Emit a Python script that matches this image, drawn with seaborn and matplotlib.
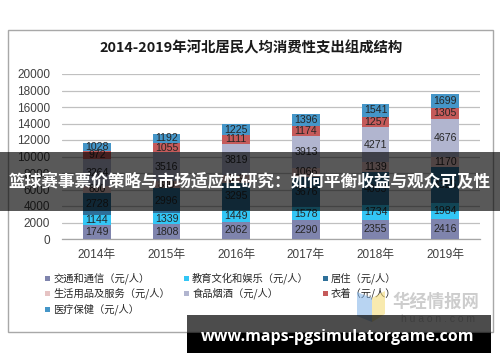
import matplotlib
matplotlib.use("Agg")
import matplotlib.pyplot as plt
from matplotlib.patches import Rectangle, Polygon
from matplotlib.lines import Line2D
import seaborn as sns
import numpy as np
import pandas as pd

years = ["2014年", "2015年", "2016年", "2017年", "2018年", "2019年"]
series_names = ["交通和通信（元/人）", "教育文化和娱乐（元/人）", "居住（元/人）",
                "生活用品及服务（元/人）", "食品烟酒（元/人）", "衣着（元/人）", "医疗保健（元/人）"]
transport = [1749, 1808, 2062, 2290, 2355, 2416]
education = [1144, 1339, 1449, 1578, 1734, 1984]
housing = [2728, 2996, 3295, 3676, 4063, 4325]
household = [800, 880, 919, 1066, 1139, 1170]
food = [3264, 3516, 3819, 3913, 4271, 4676]
clothing = [972, 1055, 1111, 1174, 1257, 1305]
medical = [1028, 1192, 1225, 1396, 1541, 1699]
yticks = list(range(0, 20001, 2000))

colors = ["#7f84ad", "#33c6f5", "#2e7099", "#e6c3c3", "#b1b5cf", "#c55a5a", "#4596c8"]
series = [transport, education, housing, household, food, clothing, medical]

sns.set_style("white")
plt.rcParams['font.family'] = ['Liberation Sans', 'Noto Sans CJK SC', 'DejaVu Sans']

fig = plt.figure(figsize=(5, 3.62), dpi=100)
ax = fig.add_axes([0.124, 1 - 239 / 362, 0.836, 165 / 362])

vals = np.array(series, dtype=float)
cum = np.cumsum(vals, axis=0)

# draw cumulative totals from top to bottom (stacked look)
for i in range(len(series) - 1, -1, -1):
    df = pd.DataFrame({"year": years, "v": cum[i]})
    sns.barplot(data=df, x="year", y="v", color=colors[i], saturation=1,
                width=0.4, errorbar=None, linewidth=0, ax=ax, zorder=3)

# labels
for i in range(len(series)):
    for j in range(len(years)):
        c = cum[i, j] - vals[i, j] / 2
        ax.text(j, c, f"{int(vals[i, j])}", ha="center", va="center",
                fontsize=7.6, color="#262626", zorder=5)

ax.set_ylim(0, 20000)
ax.set_xlim(-0.5, 5.5)
ax.set_yticks(yticks)
ax.set_yticklabels([str(t) for t in yticks], fontsize=8.5, color="#404040")
ax.yaxis.grid(True, color="#c0c0c0", linewidth=0.9, zorder=0)
ax.set_axisbelow(True)
ax.set_xlabel("")
ax.set_ylabel("")
for s in ["left", "right", "top"]:
    ax.spines[s].set_visible(False)
ax.spines["bottom"].set_color("#a6a6a6")
ax.spines["bottom"].set_linewidth(0.9)
ax.tick_params(axis="y", length=0, pad=8.6)
ax.set_xticks(range(len(years)))
ax.set_xticklabels(years, fontsize=8.5, color="#404040")
ax.tick_params(axis="x", which="major", length=0, pad=7)
ax.set_xticks(np.arange(-0.5, 6, 1), minor=True)
ax.tick_params(axis="x", which="minor", length=4, color="#a6a6a6", width=0.9, direction="out")
ax.patch.set_alpha(0)

# outer box
fig.patches.append(Rectangle((8 / 500, 1 - 332 / 362), 485 / 500, 302 / 362,
                             transform=fig.transFigure, fill=False,
                             edgecolor="#a8a8a8", linewidth=1, zorder=0))

fig.text(0.502, 1 - 48 / 362, "2014-2019年河北居民人均消费性支出组成结构",
         ha="center", va="center", fontsize=10.4, weight="bold", color="#1a1a1a",
         family=['Noto Sans CJK SC', 'DejaVu Sans'])

# legend
order = [0, 3, 6, 1, 4, 2, 5]
handles = [Line2D([], [], marker="s", linestyle="none", markersize=3.6,
                  markerfacecolor=colors[k], markeredgewidth=0) for k in order]
labels = [series_names[k] for k in order]
leg = fig.legend(handles, labels, ncol=3, loc="upper left",
                 bbox_to_anchor=(44 / 500, 1 - 272 / 362), frameon=False,
                 prop={"family": ['Noto Sans CJK SC', 'DejaVu Sans'], "size": 7.4},
                 handlelength=0.6, handletextpad=0.3, columnspacing=1.25,
                 labelspacing=0.42, borderaxespad=0, borderpad=0)
for t in leg.get_texts():
    t.set_color("#262626")

# huaon watermark
fig.patches.append(Polygon([(357 / 500, 1 - 292 / 362), (372 / 500, 1 - 298 / 362),
                            (372 / 500, 1 - 322 / 362), (357 / 500, 1 - 316 / 362)],
                           closed=True, transform=fig.transFigure,
                           facecolor="#7fb2e8", alpha=0.55, edgecolor="none", zorder=6))
fig.patches.append(Polygon([(372 / 500, 1 - 298 / 362), (385 / 500, 1 - 291 / 362),
                            (385 / 500, 1 - 314 / 362), (372 / 500, 1 - 322 / 362)],
                           closed=True, transform=fig.transFigure,
                           facecolor="#f4dc7a", alpha=0.6, edgecolor="none", zorder=6))
fig.text(436 / 500, 1 - 302 / 362, "华经情报网", ha="center", va="center",
         fontsize=12.5, weight="bold", color="#c8c8c8", alpha=0.9,
         family=['Noto Sans CJK SC', 'DejaVu Sans'], zorder=6)
fig.text(438 / 500, 1 - 319 / 362, "h u a o n . c o m", ha="center", va="center",
         fontsize=7.5, color="#d0d0d0", zorder=6)

# banner overlay
fig.patches.append(Rectangle((0, 1 - 211 / 362), 1, 59 / 362, transform=fig.transFigure,
                             facecolor="black", alpha=0.65, edgecolor="none", zorder=10))
fig.text(0.5, 1 - 182 / 362, "篮球赛事票价策略与市场适应性研究：如何平衡收益与观众可及性",
         ha="center", va="center", fontsize=12.0, weight="bold", color="white",
         family=['Noto Sans CJK SC', 'DejaVu Sans'], zorder=11)

# url watermark
fig.patches.append(Rectangle((187 / 500, 1 - 333 / 362), 304 / 500, 18 / 362,
                             transform=fig.transFigure, facecolor="black", alpha=0.7,
                             edgecolor="none", zorder=10))
fig.patches.append(Rectangle((187 / 500, 1 - 353 / 362), 304 / 500, 20 / 362,
                             transform=fig.transFigure, facecolor="black",
                             edgecolor="none", zorder=10))
fig.text(338 / 500, 1 - 337 / 362, "www.maps-pgsimulatorgame.com", ha="center", va="center",
         fontsize=11.5, weight="bold", color="white",
         family=['Open Sans', 'DejaVu Sans'], zorder=11)

fig.savefig("out.png", dpi=100)
